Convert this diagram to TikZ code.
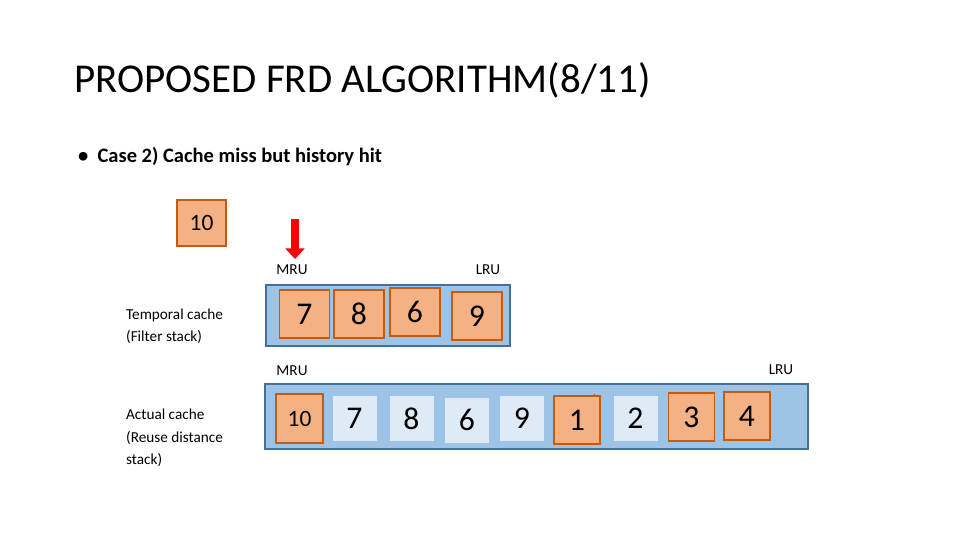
\documentclass[tikz,border=0pt]{standalone}
\usepackage{fontspec}
\setmainfont{Carlito}
\usetikzlibrary{arrows.meta}
\definecolor{stackfill}{RGB}{157,195,230}
\definecolor{stackline}{RGB}{65,113,156}
\definecolor{blkfill}{RGB}{244,177,131}
\definecolor{blkline}{RGB}{197,90,17}
\definecolor{lightblk}{RGB}{222,235,247}
\begin{document}
\begin{tikzpicture}[x=0.03cm,y=-0.03cm,
    orbox/.style={draw=blkline,fill=blkfill,line width=1pt,inner sep=0pt},
    ltbox/.style={fill=lightblk,inner sep=0pt},
    lbl/.style={font=\fontsize{13}{19}\selectfont,anchor=west,align=left}]
    \useasboundingbox (0,0) rectangle (960,540);
    % Title and bullet
    \node[anchor=west,font=\fontsize{35}{38}\selectfont] (title) at (70,80) {PROPOSED FRD ALGORITHM(8/11)};
    \node[anchor=west,font=\fontsize{17.5}{20}\selectfont\bfseries] (case) at (74,157) {\textbullet\ \ Case 2) Cache miss but history hit};

    % Incoming block
    \node[orbox,minimum width=49*0.03cm,minimum height=46*0.03cm,font=\fontsize{20}{22}\selectfont] (incoming) at (201.5,223) {10};
    \coordinate (arrtop) at (295,219);
    \coordinate (arrbot) at (295,259);
    \draw[red,line width=7pt,-{Triangle[length=9pt,width=16pt]}] (arrtop) -- (arrbot);

    % Labels
    \node[lbl] (tclbl) at (122,326) {Temporal cache\\(Filter stack)};
    \node[lbl] (aclbl) at (122,438) {Actual cache\\(Reuse distance\\stack)};
    \foreach \n/\x/\y/\t in {mru1/292/270/MRU, lru1/488/270/LRU, mru2/292/371/MRU, lru2/781/370/LRU}
      \node[font=\fontsize{13}{15}\selectfont] (\n) at (\x,\y) {\t};

    % Temporal cache (filter stack)
    \draw[draw=stackline,fill=stackfill,line width=1.2pt] (266,285) rectangle (510,346);
    \foreach \n/\x/\y/\t in {t1/304.5/314/7, t2/359/314/8, t3/415/312/6, t4/477/316/9}
      \node[orbox,minimum width=50*0.03cm,minimum height=48*0.03cm,font=\fontsize{27}{29}\selectfont] (\n) at (\x,\y) {\t};

    % Actual cache (reuse distance stack)
    \draw[draw=stackline,fill=stackfill,line width=1.2pt] (265,384) rectangle (808,449);
    \node[text=red,font=\fontsize{13}{14}\selectfont\bfseries] (hit) at (592,400) {Hit};
    \foreach \n/\x/\y/\t in {a2/354.5/418.5/7, a3/411.5/418.5/8, a4/467/420/6, a5/522/418/9, a7/635.5/418.5/2}
      \node[ltbox,minimum width=44*0.03cm,minimum height=45*0.03cm,font=\fontsize{27}{29}\selectfont] (\n) at (\x,\y) {\t};
    \node[orbox,minimum width=47*0.03cm,minimum height=49*0.03cm,font=\fontsize{20}{22}\selectfont] (a1) at (299.5,418.5) {10};
    \foreach \n/\x/\y/\t in {a6/577/420/1, a8/691.5/417/3, a9/747/416/4}
      \node[orbox,minimum width=46*0.03cm,minimum height=48*0.03cm,font=\fontsize{27}{29}\selectfont] (\n) at (\x,\y) {\t};
\end{tikzpicture}
\end{document}
